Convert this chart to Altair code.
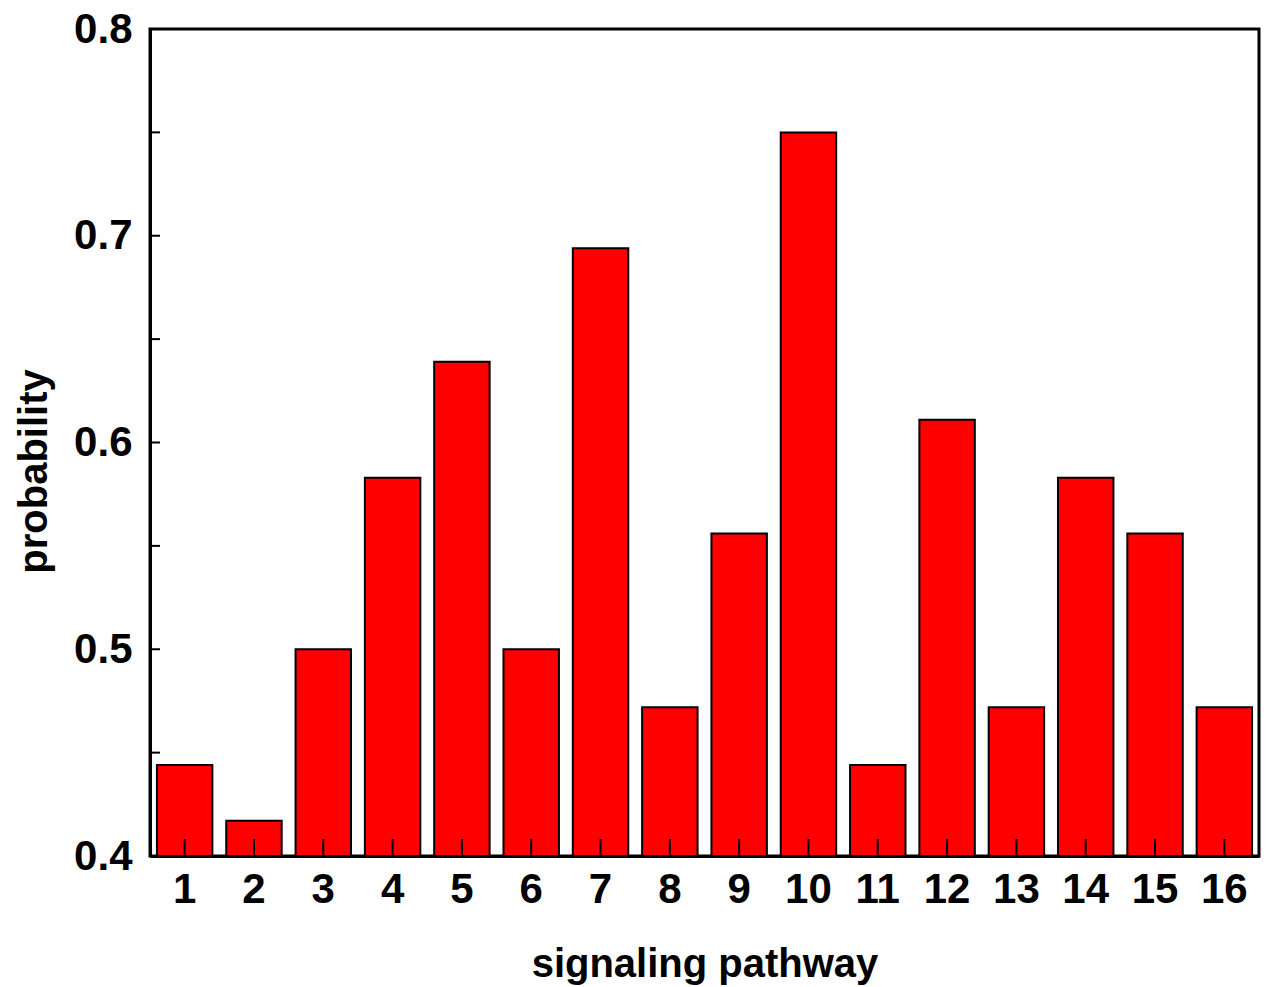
import altair as alt
import pandas as pd

pathways = [str(i) for i in range(1, 17)]
probability = [0.444, 0.417, 0.500, 0.583, 0.639, 0.500, 0.694, 0.472,
               0.556, 0.750, 0.444, 0.611, 0.472, 0.583, 0.556, 0.472]
y_ticks = [0.45, 0.5, 0.55, 0.6, 0.65, 0.7, 0.75]

W, H = 1109, 827
FONT = "Liberation Sans"

df = pd.DataFrame({"pathway": pathways, "probability": probability})
tick_df = pd.DataFrame({"t": y_ticks})

xenc = alt.X("pathway:N", sort=pathways,
             scale=alt.Scale(paddingInner=0.2, paddingOuter=0.1),
             axis=alt.Axis(title="signaling pathway", labelAngle=0, tickSize=0,
                           labelFont=FONT, labelFontSize=42, labelFontWeight="bold",
                           labelPadding=13, titleFont=FONT, titleFontSize=40,
                           titleFontWeight="bold", titleY=120, titleBaseline="alphabetic",
                           domainColor="black", domainWidth=3, labelColor="black",
                           titleColor="black"))

yscale = alt.Scale(domain=[0.4, 0.8], zero=False, nice=False)

bars = alt.Chart(df).mark_bar(color="#ff0000", stroke="black", strokeWidth=2).encode(
    x=xenc,
    y=alt.Y("probability:Q", scale=yscale,
            axis=alt.Axis(title="probability", values=[0.4, 0.5, 0.6, 0.7, 0.8],
                          format=".1f", tickSize=0, grid=False,
                          labelFont=FONT, labelFontSize=42, labelFontWeight="bold",
                          labelPadding=18, titleFont=FONT, titleFontSize=40,
                          titleFontWeight="bold", titleX=-104, titleY=442,
                          titleBaseline="alphabetic", titleAngle=-90,
                          domainColor="black", domainWidth=3, labelColor="black",
                          titleColor="black")),
    y2=alt.datum(0.4),
)

xticks = alt.Chart(df).mark_rule(color="black", strokeWidth=2).encode(
    x=alt.X("pathway:N", sort=pathways),
    y=alt.value(H),
    y2=alt.value(H - 17),
)

yticks = alt.Chart(tick_df).mark_rule(color="black", strokeWidth=2).encode(
    y=alt.Y("t:Q", scale=yscale),
    x=alt.value(0),
    x2=alt.value(10),
)

chart = alt.layer(bars, xticks, yticks).properties(
    width=W, height=H,
    autosize=alt.AutoSizeParams(type="none"),
    padding={"left": 150, "top": 29, "right": 8, "bottom": 131},
).configure_view(stroke="black", strokeWidth=3).configure_axis(grid=False)

chart.save("out.html", embed_options={"renderer": "svg", "actions": False})
